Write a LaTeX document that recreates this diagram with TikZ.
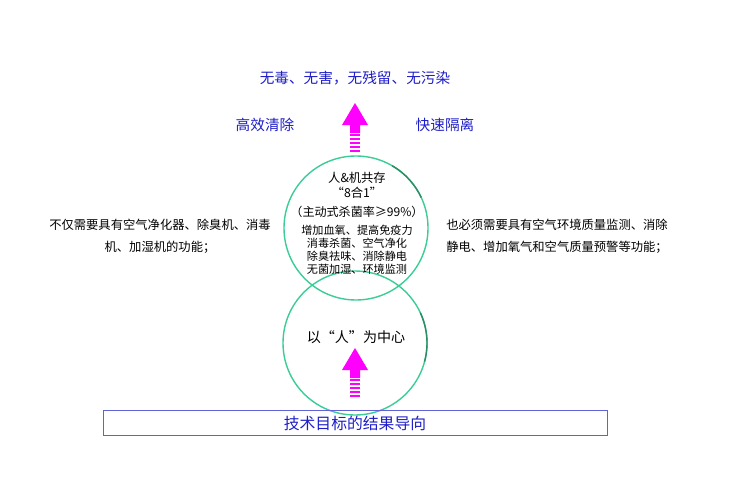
\documentclass[tikz,border=0pt]{standalone}
\usepackage{fontspec}
\setmainfont{Noto Sans CJK SC}
\usetikzlibrary{positioning}
\definecolor{ringgreen}{RGB}{60,205,150}
\definecolor{ringdark}{RGB}{45,140,100}
\definecolor{titleblue}{RGB}{30,30,200}
\definecolor{arrowpink}{RGB}{255,0,255}
\begin{document}
\begin{tikzpicture}[x=0.03cm, y=-0.03cm]
\tikzstyle{bluetext} = [text=titleblue, font=\fontsize{12.5}{14}\selectfont]
\tikzstyle{side} = [align=center, font=\fontsize{10.5}{19}\selectfont]
\tikzstyle{inner} = [align=center, font=\fontsize{9.5}{11}\selectfont]
\useasboundingbox (0,0) rectangle (741,480);

% two overlapping circles
\draw[line width=1.2pt, ringgreen] (356,228) circle (72);
\draw[line width=1.2pt, ringgreen] (355,343) circle (72);
\draw[line width=1.2pt, ringdark] (356,228) ++(-25:72) arc (-25:-60:72);
\draw[line width=1.2pt, ringdark] (355,343) ++(15:72) arc (15:-25:72);

% arrows
\foreach \ax/\ay in {355/103, 355/348} {
  \fill[arrowpink] (\ax,\ay) -- ++(13,22) -- ++(-8,0) -- ++(0,8)
    -- ++(-10,0) -- ++(0,-8) -- ++(-8,0) -- cycle;
  \foreach \k in {0,...,4}
    \fill[arrowpink] (\ax-5,\ay+31+\k*4) rectangle ++(10,2.2);
}

% texts
\node[bluetext] (goal) at (355,78) {无毒、无害，无残留、无污染};
\node[bluetext] (clean) at (265,125) {高效清除};
\node[bluetext] (fast) at (445,125) {快速隔离};
\node[side] (left) at (160,236) {不仅需要具有空气净化器、除臭机、消毒\\机、加湿机的功能；};
\node[side] (right) at (557,236) {也必须需要具有空气环境质量监测、消除\\静电、增加氧气和空气质量预警等功能；};
\node[inner, font=\fontsize{10.5}{12.5}\selectfont] (coexist) at (357,185) {人\&机共存\\“8合1”};
\node[inner, font=\fontsize{10.3}{12}\selectfont] (rate) at (357,212) {（主动式杀菌率≥99\%）};
\node[inner] (funcs) at (357,250) {增加血氧、提高免疫力\\消毒杀菌、空气净化\\除臭祛味、消除静电\\无菌加湿、环境监测};
\node[font=\fontsize{12}{14}\selectfont] (center) at (356,337) {以“人”为中心};
\node[draw=titleblue!70, line width=0.6pt, minimum width=504*0.03cm,
  minimum height=25*0.03cm, bluetext, font=\fontsize{13.5}{15}\selectfont] (result) at (355,423) {技术目标的结果导向};
\end{tikzpicture}
\end{document}
